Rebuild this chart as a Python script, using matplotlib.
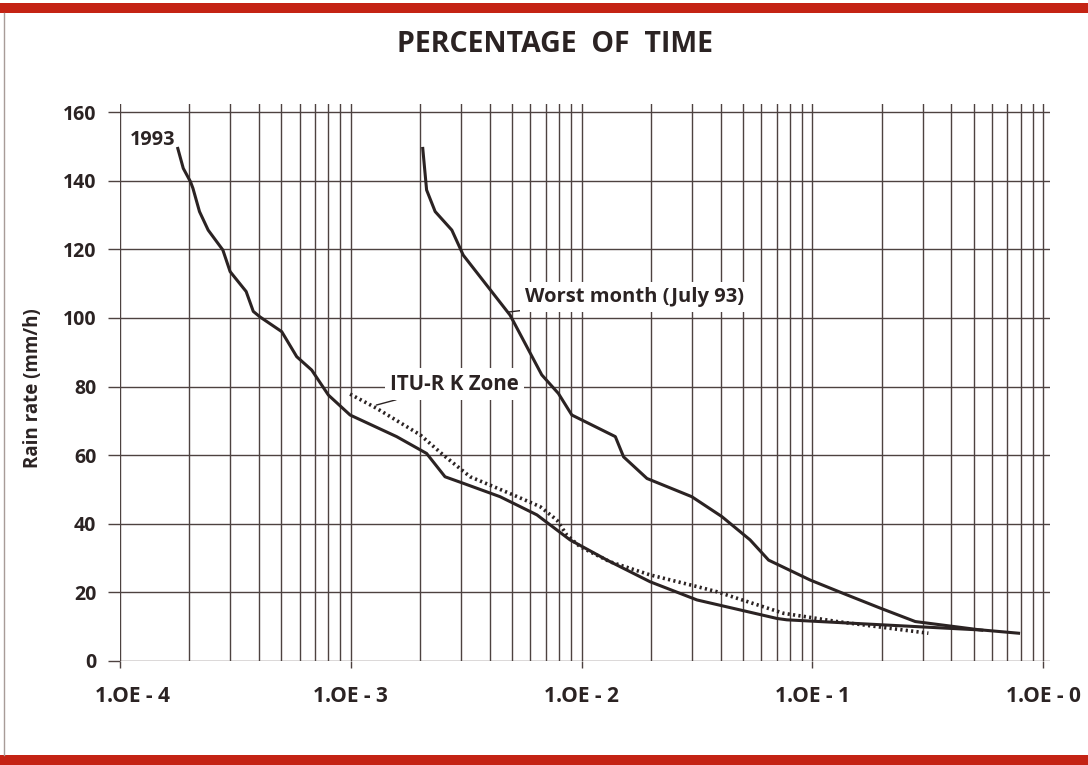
import numpy as np
import matplotlib
matplotlib.use('Agg')
import matplotlib.pyplot as plt
from matplotlib.patches import Rectangle
from matplotlib.lines import Line2D
from matplotlib.transforms import ScaledTranslation

plt.rcParams['font.family'] = ['Open Sans', 'DejaVu Sans']

# percentage of time (log axis) vs rain rate (mm/h)
pct_1993 = [1.78e-4, 1.88e-4, 2.02e-4, 2.07e-4, 2.21e-4, 2.41e-4, 2.79e-4, 3.00e-4,
            3.52e-4, 3.78e-4, 4.04e-4, 5.02e-4, 5.83e-4, 6.77e-4, 8.0e-4, 9.93e-4,
            1.58e-3, 2.13e-3, 2.56e-3, 3.07e-3, 4.43e-3, 6.40e-3, 8.91e-3, 1.29e-2,
            1.98e-2, 3.16e-2, 7.02e-2, 7.75e-2, 0.551, 0.782]
rain_1993 = [149.4, 143.6, 139.7, 137.8, 131.0, 125.6, 119.8, 113.5,
             107.7, 101.9, 100.3, 96.0, 88.7, 84.8, 77.5, 71.7,
             65.4, 60.5, 53.7, 51.8, 47.9, 42.6, 35.3, 29.4,
             23.1, 17.8, 12.4, 12.0, 9.0, 8.1]

pct_worst = [2.05e-3, 2.13e-3, 2.32e-3, 2.74e-3, 3.07e-3, 4.90e-3, 6.72e-3, 7.93e-3,
             9.07e-3, 1.40e-2, 1.52e-2, 1.92e-2, 3.00e-2, 4.05e-2, 5.37e-2, 6.46e-2,
             9.78e-2, 0.136, 0.197, 0.279, 0.542]
rain_worst = [149.4, 137.3, 131.0, 125.6, 118.3, 100.8, 83.4, 78.0,
              71.7, 65.4, 59.5, 53.2, 47.9, 42.1, 35.3, 29.4,
              23.6, 19.7, 15.4, 11.5, 9.0]

pct_itu = [9.93e-4, 1.29e-3, 2.0e-3, 2.52e-3, 3.29e-3, 5.06e-3, 6.61e-3, 7.81e-3,
           8.63e-3, 9.85e-3, 1.33e-2, 1.98e-2, 3.16e-2, 3.85e-2, 7.50e-2, 0.128, 0.318]
rain_itu = [77.8, 73.7, 65.9, 60.0, 53.7, 48.4, 45.0, 41.1,
            36.7, 33.3, 28.9, 25.1, 21.7, 20.2, 13.9, 11.5, 8.1]

xticks = [1e-4, 1e-3, 1e-2, 1e-1, 1e0]
xticklabels = ['1.OE - 4', '1.OE - 3', '1.OE - 2', '1.OE - 1', '1.OE - 0']
yticks = [0, 20, 40, 60, 80, 100, 120, 140, 160]

ink = '#2b2323'
gridc = '#4d4240'
red = '#c42314'

fig = plt.figure(figsize=(10.88, 7.65), dpi=100)
ax = fig.add_axes([120 / 1088, 104 / 765, 930 / 1088, 557.5 / 765])

ax.set_xscale('log')
ax.set_xlim(1e-4, 1.07)
ax.set_ylim(0, 162.5)

ax.plot(pct_1993, rain_1993, color=ink, lw=2.2, zorder=3)
ax.plot(pct_worst, rain_worst, color=ink, lw=2.2, zorder=3)
ax.plot(pct_itu, rain_itu, color=ink, lw=2.6, ls=(0, (0.6, 0.9)), zorder=3)

ax.set_xticks(xticks)
ax.set_xticklabels(xticklabels)
ax.set_yticks(yticks)
ax.xaxis.set_minor_locator(matplotlib.ticker.LogLocator(base=10, subs=np.arange(2, 10)))
ax.xaxis.set_minor_formatter(matplotlib.ticker.NullFormatter())

ax.grid(True, which='both', axis='x', color=gridc, lw=1.0)
ax.grid(True, which='major', axis='y', color=gridc, lw=1.0)
ax.set_axisbelow(True)
for s in ax.spines.values():
    s.set_visible(False)

ax.tick_params(axis='x', which='major', direction='out', length=5, width=1.0,
               color=gridc, pad=13, labelsize=15, labelcolor=ink)
ax.tick_params(axis='x', which='minor', length=0)
ax.tick_params(axis='y', direction='out', length=9, width=1.0,
               color=gridc, pad=8, labelsize=14, labelcolor=ink)
for lab in ax.get_xticklabels() + ax.get_yticklabels():
    lab.set_fontweight('bold')
# first label sits a little right of its tick in the original
first = ax.xaxis.get_major_ticks()[0].label1
first.set_transform(first.get_transform() + ScaledTranslation(9 / 72, 0, fig.dpi_scale_trans))

ax.set_ylabel('Rain rate (mm/h)', fontsize=13.5, fontweight='bold', color=ink)
ax.yaxis.set_label_coords(-0.083, 0.49)

box = dict(boxstyle='square,pad=0.25', fc='white', ec='none')
ax.text(1.10e-4, 151.9, '1993', fontsize=14.3, fontweight='bold', color=ink,
        ha='left', va='center')
ax.annotate('Worst month (July 93)', xy=(4.80e-3, 101.7), xytext=(5.69e-3, 106.1),
            fontsize=14.5, fontweight='bold', color=ink, ha='left', va='center',
            bbox=box, zorder=4,
            arrowprops=dict(arrowstyle='-', color=ink, lw=1.0, shrinkA=0, shrinkB=0))
ax.annotate('ITU-R K Zone', xy=(1.29e-3, 74.6), xytext=(1.48e-3, 80.7),
            fontsize=14.8, fontweight='bold', color=ink, ha='left', va='center',
            bbox=box, zorder=4,
            arrowprops=dict(arrowstyle='-', color=ink, lw=1.0, shrinkA=0, shrinkB=0))

fig.text(555 / 1088, 1 - 45 / 765, 'PERCENTAGE  OF  TIME', fontsize=20.5,
         fontweight='bold', color=ink, ha='center', va='center')

# red bands and page edge
fig.patches.append(Rectangle((0, 1 - 13 / 765), 1, 10 / 765, transform=fig.transFigure,
                             fc=red, ec='none'))
fig.patches.append(Rectangle((0, 0), 1, 10 / 765, transform=fig.transFigure,
                             fc=red, ec='none'))
fig.lines.append(Line2D([4 / 1088, 4 / 1088], [10 / 765, 1 - 13 / 765],
                        transform=fig.transFigure, color='#a89c98', lw=1.0))

fig.savefig('out.png', dpi=100)
plt.close(fig)
